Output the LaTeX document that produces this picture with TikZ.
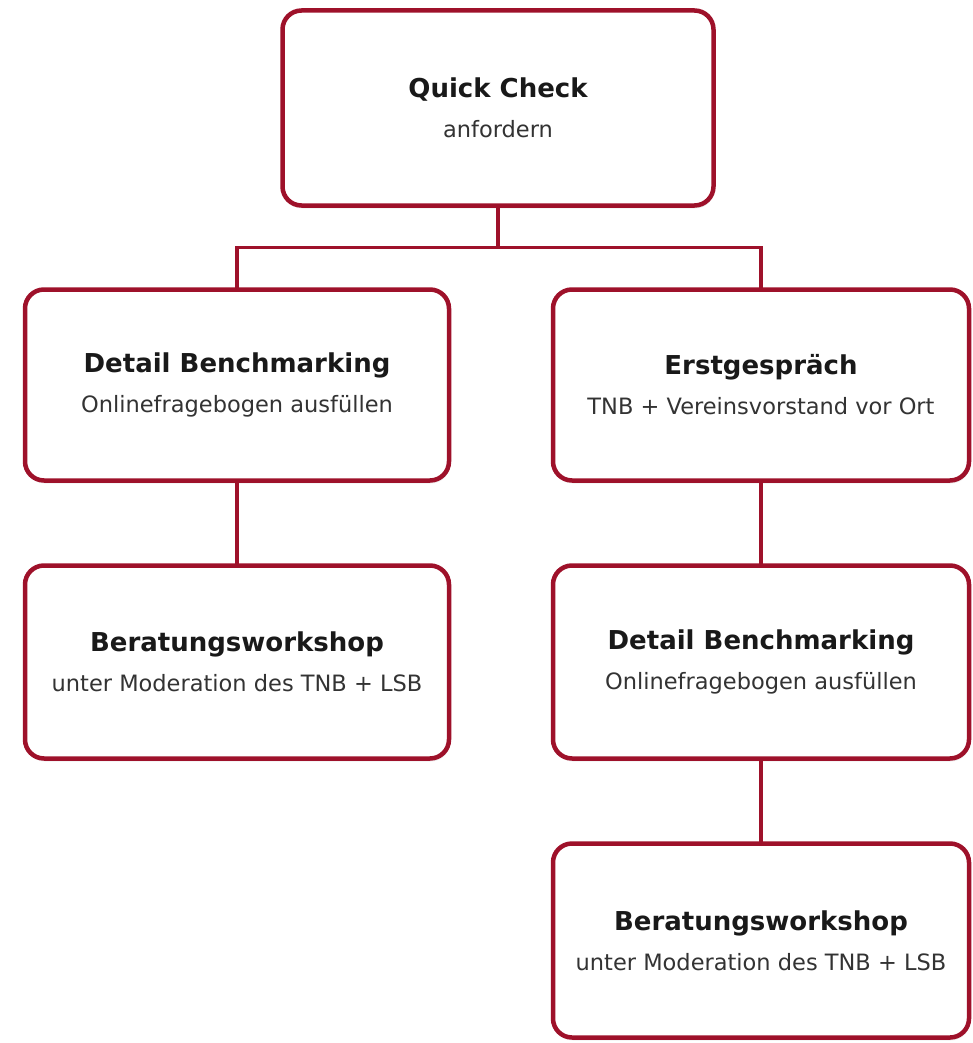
\documentclass[tikz,border=0pt]{standalone}
\usepackage{fontspec}
\setmainfont{DejaVu Sans}
\usepackage{tikz}
\usetikzlibrary{positioning, shadows}
\definecolor{tnbred}{RGB}{158,17,42}
\tikzset{
box/.style={draw=tnbred, line width=4.5pt, rounded corners=19pt, fill=white, % the red framed boxes
  minimum width=424pt, minimum height=191pt, align=center, outer sep=0pt,
  font=\fontsize{22.5}{40}\selectfont,
  drop shadow={shadow xshift=1pt, shadow yshift=-3pt, opacity=0.12}},
link/.style={draw=tnbred, line width=3.3pt}, % the plain connecting lines
node distance=85pt, % gap between two boxes stacked on top of each other
}
\newcommand{\boxtitle}[1]{{\fontsize{26}{40}\selectfont\bfseries\color{black!90}#1}}
\newcommand{\boxsub}[1]{{\color{black!80}#1}}

\begin{document}
\begin{tikzpicture}
  \useasboundingbox (0,0) rectangle (973pt,-1043pt);

  \node[box, minimum width=431pt, minimum height=195pt] (qc) at (498pt,-108pt)
    {\boxtitle{Quick Check}\\ \boxsub{anfordern}};
  \node[box, below=84pt of qc, xshift=-261pt] (db1)
    {\boxtitle{Detail Benchmarking}\\ \boxsub{Onlinefragebogen ausfüllen}};
  \node[box, right=104pt of db1, minimum width=416pt] (eg)
    {\boxtitle{Erstgespräch}\\ \boxsub{TNB + Vereinsvorstand vor Ort}};
  \node[box, below=of db1, minimum height=193pt] (bw1)
    {\boxtitle{Beratungsworkshop}\\ \boxsub{unter Moderation des TNB + LSB}};
  \node[box, below=of eg, minimum width=416pt, minimum height=193pt] (db2)
    {\boxtitle{Detail Benchmarking}\\ \boxsub{Onlinefragebogen ausfüllen}};
  \node[box, below=of db2, minimum width=416pt, minimum height=194pt] (bw2)
    {\boxtitle{Beratungsworkshop}\\ \boxsub{unter Moderation des TNB + LSB}};

  \coordinate[below=42pt of qc.south] (split);

  \draw[link] (qc.south) -- (split) -| (db1.north);
  \draw[link] (split) -| (eg.north);
  \draw[link] (db1) -- (bw1);
  \draw[link] (eg) -- (db2);
  \draw[link] (db2) -- (bw2);
\end{tikzpicture}
\end{document}
